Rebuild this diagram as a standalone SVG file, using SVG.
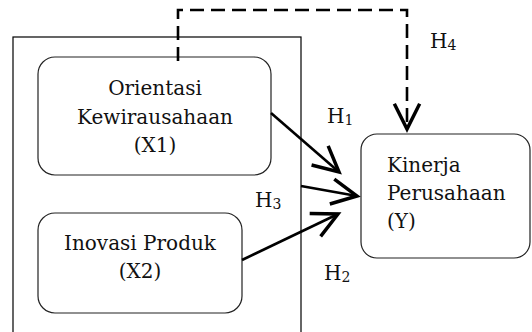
<svg xmlns="http://www.w3.org/2000/svg" width="532" height="332" viewBox="0 0 532 332">
<style>
.frame{fill:none;stroke:#000;stroke-width:1.2}
.box{fill:#fff;stroke:#222;stroke-width:1.2}
.t{font-family:"DejaVu Serif","Liberation Serif",serif;font-size:20px;fill:#111}
.c{text-anchor:middle}
.sub{font-size:14px}
.arr{fill:none;stroke:#000;stroke-width:2.6}
.dash{fill:none;stroke:#000;stroke-width:2.6;stroke-dasharray:14 7}
</style>
<defs>
<marker id="ah" markerUnits="userSpaceOnUse" markerWidth="40" markerHeight="40" viewBox="-25 -15 30 30" refX="0" refY="0" orient="auto" overflow="visible">
<path d="M-19,-9.5 L0,0 L-19,9.5" fill="none" stroke="#000" stroke-width="2.6" stroke-dasharray="none"/>
</marker>
</defs>
<rect class="frame" x="13" y="37" width="288" height="310"/>
<g id="x1">
<rect class="box" x="38" y="57" width="233" height="118" rx="17"/>
<text class="t c" x="155" y="95">Orientasi</text>
<text class="t c" x="155" y="124">Kewirausahaan</text>
<text class="t c" x="155" y="152">(X1)</text>
</g>
<g id="x2">
<rect class="box" x="38" y="213" width="204" height="100" rx="17"/>
<text class="t c" x="140" y="250">Inovasi Produk</text>
<text class="t c" x="140" y="278">(X2)</text>
</g>
<g id="y">
<rect class="box" x="361" y="134" width="169" height="124" rx="16"/>
<text class="t" x="387" y="172">Kinerja</text>
<text class="t" x="387" y="200">Perusahaan</text>
<text class="t" x="387" y="228">(Y)</text>
</g>
<g id="connectors">
<path class="dash" d="M178,61 V10 H407 V129" marker-end="url(#ah)"/>
<line class="arr" x1="271" y1="113" x2="339" y2="172" marker-end="url(#ah)"/>
<line class="arr" x1="301" y1="186" x2="357" y2="196" marker-end="url(#ah)"/>
<line class="arr" x1="242" y1="260" x2="338" y2="214" marker-end="url(#ah)"/>
</g>
<g id="labels">
<text class="t" x="327" y="123">H<tspan class="sub" dy="2">1</tspan></text>
<text class="t" x="255" y="207">H<tspan class="sub" dy="2">3</tspan></text>
<text class="t" x="324" y="280">H<tspan class="sub" dy="2">2</tspan></text>
<text class="t" x="430" y="48">H<tspan class="sub" dy="2">4</tspan></text>
</g>
</svg>
